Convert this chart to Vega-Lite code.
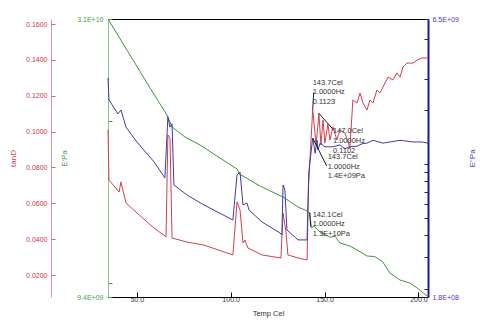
{
  "$schema": "https://vega.github.io/schema/vega-lite/v6.json",
  "autosize": "none",
  "width": 320,
  "height": 278,
  "padding": {"left": 108, "top": 19, "right": 52, "bottom": 25},
  "background": "white",
  "config": {
    "view": {"stroke": "#000000", "strokeWidth": 1},
    "axis": {"labelFont": "Liberation Sans", "labelFontSize": 7, "titleFont": "Liberation Sans", "titleFontSize": 8, "titleFontWeight": "normal", "grid": false}
  },
  "datasets": {
    "tand": [
      {"T": 34.7, "v": 0.1009}, {"T": 35.2, "v": 0.0730}, {"T": 40.6, "v": 0.0663}, {"T": 41.6, "v": 0.0719},
      {"T": 44.3, "v": 0.0602}, {"T": 50.1, "v": 0.0546}, {"T": 59.2, "v": 0.0462}, {"T": 65.0, "v": 0.0418},
      {"T": 65.6, "v": 0.0412}, {"T": 66.6, "v": 0.0981}, {"T": 67.7, "v": 0.0964}, {"T": 68.8, "v": 0.0406},
      {"T": 76.8, "v": 0.0384}, {"T": 85.8, "v": 0.0367}, {"T": 101.2, "v": 0.0312}, {"T": 103.4, "v": 0.0607},
      {"T": 105.0, "v": 0.0563}, {"T": 106.6, "v": 0.0379}, {"T": 107.6, "v": 0.0395}, {"T": 109.2, "v": 0.0351},
      {"T": 116.7, "v": 0.0312}, {"T": 126.8, "v": 0.0295}, {"T": 127.9, "v": 0.0546}, {"T": 129.5, "v": 0.0440},
      {"T": 130.5, "v": 0.0312}, {"T": 135.9, "v": 0.0295}, {"T": 140.7, "v": 0.0284}, {"T": 141.5, "v": 0.0700},
      {"T": 143.7, "v": 0.1123}, {"T": 145.5, "v": 0.0925}, {"T": 147.0, "v": 0.1102}, {"T": 148.1, "v": 0.0925},
      {"T": 149.2, "v": 0.1065}, {"T": 150.2, "v": 0.0936}, {"T": 151.8, "v": 0.1042}, {"T": 152.9, "v": 0.0953},
      {"T": 154.5, "v": 0.1026}, {"T": 156.6, "v": 0.0953}, {"T": 158.2, "v": 0.1009}, {"T": 160.9, "v": 0.0992},
      {"T": 163.5, "v": 0.0908}, {"T": 165.1, "v": 0.1176}, {"T": 167.3, "v": 0.1159}, {"T": 168.9, "v": 0.1215},
      {"T": 170.5, "v": 0.1159}, {"T": 172.6, "v": 0.1120}, {"T": 174.2, "v": 0.1176}, {"T": 175.8, "v": 0.1159},
      {"T": 177.9, "v": 0.1232}, {"T": 179.5, "v": 0.1215}, {"T": 182.2, "v": 0.1271}, {"T": 183.8, "v": 0.1304},
      {"T": 186.4, "v": 0.1288}, {"T": 188.6, "v": 0.1327}, {"T": 190.2, "v": 0.1304}, {"T": 191.8, "v": 0.1360},
      {"T": 193.9, "v": 0.1382}, {"T": 197.1, "v": 0.1382}, {"T": 199.3, "v": 0.1399}, {"T": 201.9, "v": 0.1410},
      {"T": 205.1, "v": 0.1410}
    ],
    "eprime": [
      {"T": 34.7, "v": 3.10e10}, {"T": 46.4, "v": 2.656e10}, {"T": 57.1, "v": 2.305e10}, {"T": 66.1, "v": 2.053e10},
      {"T": 67.7, "v": 1.992e10}, {"T": 68.8, "v": 1.950e10}, {"T": 75.7, "v": 1.868e10}, {"T": 83.7, "v": 1.805e10},
      {"T": 94.3, "v": 1.707e10}, {"T": 103.4, "v": 1.628e10}, {"T": 105.0, "v": 1.587e10}, {"T": 106.6, "v": 1.580e10},
      {"T": 115.6, "v": 1.514e10}, {"T": 127.9, "v": 1.444e10}, {"T": 135.9, "v": 1.383e10}, {"T": 140.7, "v": 1.360e10},
      {"T": 142.1, "v": 1.350e10}, {"T": 143.0, "v": 1.264e10}, {"T": 144.4, "v": 1.275e10}, {"T": 147.6, "v": 1.243e10},
      {"T": 152.9, "v": 1.215e10}, {"T": 155.6, "v": 1.220e10}, {"T": 158.2, "v": 1.185e10}, {"T": 163.5, "v": 1.170e10},
      {"T": 167.3, "v": 1.150e10}, {"T": 172.6, "v": 1.121e10}, {"T": 176.8, "v": 1.118e10}, {"T": 181.1, "v": 1.092e10},
      {"T": 184.8, "v": 1.042e10}, {"T": 190.2, "v": 1.011e10}, {"T": 195.5, "v": 9.98e9}, {"T": 199.3, "v": 9.77e9},
      {"T": 204.6, "v": 9.44e9}
    ],
    "edouble": [
      {"T": 34.7, "v": 3.04e9}, {"T": 35.2, "v": 2.29e9}, {"T": 40.0, "v": 1.91e9}, {"T": 41.6, "v": 2.01e9},
      {"T": 44.3, "v": 1.61e9}, {"T": 50.1, "v": 1.33e9}, {"T": 59.2, "v": 1.03e9}, {"T": 65.0, "v": 8.36e8},
      {"T": 66.6, "v": 1.84e9}, {"T": 67.7, "v": 1.61e9}, {"T": 68.8, "v": 1.68e9}, {"T": 69.8, "v": 7.64e8},
      {"T": 76.8, "v": 6.71e8}, {"T": 85.8, "v": 5.90e8}, {"T": 101.2, "v": 4.86e8}, {"T": 103.4, "v": 8.69e8},
      {"T": 105.0, "v": 9.03e8}, {"T": 106.6, "v": 5.90e8}, {"T": 108.7, "v": 6.05e8}, {"T": 109.8, "v": 5.53e8},
      {"T": 116.7, "v": 4.74e8}, {"T": 126.3, "v": 4.11e8}, {"T": 127.3, "v": 4.01e8}, {"T": 127.9, "v": 7.64e8},
      {"T": 128.9, "v": 7.16e8}, {"T": 130.0, "v": 4.27e8}, {"T": 135.9, "v": 3.76e8}, {"T": 140.7, "v": 3.76e8},
      {"T": 141.6, "v": 9.0e8}, {"T": 143.7, "v": 1.40e9}, {"T": 145.0, "v": 1.15e9}, {"T": 146.0, "v": 1.36e9},
      {"T": 146.5, "v": 1.20e9}, {"T": 147.6, "v": 1.31e9}, {"T": 150.2, "v": 1.25e9}, {"T": 154.5, "v": 1.25e9},
      {"T": 158.2, "v": 1.28e9}, {"T": 160.9, "v": 1.22e9}, {"T": 163.5, "v": 1.25e9}, {"T": 167.3, "v": 1.26e9},
      {"T": 170.0, "v": 1.30e9}, {"T": 172.6, "v": 1.31e9}, {"T": 175.8, "v": 1.36e9}, {"T": 181.1, "v": 1.31e9},
      {"T": 184.8, "v": 1.33e9}, {"T": 190.2, "v": 1.36e9}, {"T": 197.1, "v": 1.33e9}, {"T": 201.9, "v": 1.33e9},
      {"T": 205.1, "v": 1.31e9}
    ],
    "note1": [{"T": 143.7, "v": 0.1123, "label": "143.7Cel\n1.0000Hz\n0.1123"}],
    "note2": [{"T": 147.0, "v": 0.1102, "label": "147.0Cel\n1.0000Hz\n0.1102"}],
    "note3": [{"T": 143.7, "v": 1.4e9, "label": "143.7Cel\n1.0000Hz\n1.4E+09Pa"}],
    "note4": [{"T": 142.1, "v": 1.35e10, "label": "142.1Cel\n1.0000Hz\n1.3E+10Pa"}]
  },
  "encoding": {
    "x": {"field": "T", "type": "quantitative", "scale": {"domain": [34.7, 205.1], "nice": false, "zero": false},
      "axis": {"values": [50, 100, 150, 200], "format": ".1f", "title": "Temp Cel", "tickSize": -5, "labelPadding": 3, "titlePadding": 7,
        "domainColor": "#000000", "tickColor": "#000000", "labelColor": "#333333", "titleColor": "#333333", "titleFontSize": 7.5}}
  },
  "resolve": {"scale": {"y": "independent"}, "axis": {"y": "independent"}},
  "layer": [
    {
      "data": {"name": "tand"},
      "mark": {"type": "line", "color": "#d0404e", "strokeWidth": 1},
      "encoding": {
        "y": {"field": "v", "type": "quantitative", "scale": {"domain": [0.00774, 0.16279], "nice": false, "zero": false},
          "axis": {"orient": "left", "offset": 57, "values": [0.02, 0.04, 0.06, 0.08, 0.1, 0.12, 0.14, 0.16], "format": ".4f",
            "title": "tanD", "tickSize": -4, "labelPadding": 8, "titlePadding": 8,
            "domainColor": "#e0909c", "tickColor": "#d0606e", "labelColor": "#c8384a", "titleColor": "#c8384a"}}
      }
    },
    {
      "data": {"name": "eprime"},
      "mark": {"type": "line", "color": "#3c963c", "strokeWidth": 1},
      "encoding": {
        "y": {"field": "v", "type": "quantitative", "scale": {"type": "log", "domain": [9.4e9, 3.1e10], "nice": false, "zero": false},
          "axis": {"orient": "left", "offset": 0, "values": [9.4e9, 1e10, 2e10, 3.1e10],
            "labelExpr": "datum.value > 3.05e10 ? '3.1E+10' : (datum.value < 9.5e9 ? '9.4E+09' : '')",
            "title": "E'Pa", "tickSize": -4, "labelPadding": 9, "titlePadding": 8,
            "domainColor": "#8cc08c", "tickColor": "#3c963c", "labelColor": "#4a9a4a", "titleColor": "#4a9a4a"}}
      }
    },
    {
      "data": {"name": "edouble"},
      "mark": {"type": "line", "color": "#3c3ca8", "strokeWidth": 1},
      "encoding": {
        "y": {"field": "v", "type": "quantitative", "scale": {"type": "log", "domain": [1.8e8, 6.5e9], "nice": false, "zero": false},
          "axis": {"orient": "right", "offset": 0, "values": [1.8e8, 2e8, 3e8, 4e8, 5e8, 6e8, 7e8, 8e8, 9e8, 1e9, 2e9, 3e9, 5e9, 6.5e9],
            "labelExpr": "datum.value > 6.4e9 ? '6.5E+09' : (datum.value < 1.85e8 ? '1.8E+08' : '')",
            "title": "E''Pa", "titleAngle": 270, "tickSize": -4, "labelPadding": 8, "titlePadding": 18,
            "domainColor": "#1a1aa0", "domainWidth": 2, "tickColor": "#1a1aa0", "labelColor": "#4040b0", "titleColor": "#4040b0"}}
      }
    },
    {
      "data": {"name": "note1"},
      "mark": {"type": "rule", "color": "#222222", "strokeWidth": 1, "x2Offset": 1, "y2Offset": -17},
      "encoding": {
        "x2": {"field": "T"},
        "y": {"field": "v", "type": "quantitative", "scale": {"domain": [0.00774, 0.16279], "nice": false, "zero": false}, "axis": null},
        "y2": {"field": "v"}
      }
    },
    {
      "data": {"name": "note1"},
      "mark": {"type": "text", "align": "left", "baseline": "top", "dx": 0, "dy": -31, "lineBreak": "\n", "lineHeight": 9.7, "font": "Liberation Sans", "fontSize": 7.5, "color": "#333333"},
      "encoding": {
        "y": {"field": "v", "type": "quantitative", "scale": {"domain": [0.00774, 0.16279], "nice": false, "zero": false}, "axis": null},
        "text": {"field": "label"}
      }
    },
    {
      "data": {"name": "note2"},
      "mark": {"type": "rule", "color": "#222222", "strokeWidth": 1, "x2Offset": 15, "y2Offset": 17},
      "encoding": {
        "x2": {"field": "T"},
        "y": {"field": "v", "type": "quantitative", "scale": {"domain": [0.00774, 0.16279], "nice": false, "zero": false}, "axis": null},
        "y2": {"field": "v"}
      }
    },
    {
      "data": {"name": "note2"},
      "mark": {"type": "text", "align": "left", "baseline": "top", "dx": 14, "dy": 14, "lineBreak": "\n", "lineHeight": 9.7, "font": "Liberation Sans", "fontSize": 7.5, "color": "#333333"},
      "encoding": {
        "y": {"field": "v", "type": "quantitative", "scale": {"domain": [0.00774, 0.16279], "nice": false, "zero": false}, "axis": null},
        "text": {"field": "label"}
      }
    },
    {
      "data": {"name": "note3"},
      "mark": {"type": "rule", "color": "#222222", "strokeWidth": 1, "x2Offset": 14, "y2Offset": 28},
      "encoding": {
        "x2": {"field": "T"},
        "y": {"field": "v", "type": "quantitative", "scale": {"type": "log", "domain": [1.8e8, 6.5e9], "nice": false, "zero": false}, "axis": null},
        "y2": {"field": "v"}
      }
    },
    {
      "data": {"name": "note3"},
      "mark": {"type": "text", "align": "left", "baseline": "top", "dx": 15, "dy": 15, "lineBreak": "\n", "lineHeight": 9.7, "font": "Liberation Sans", "fontSize": 7.5, "color": "#333333"},
      "encoding": {
        "y": {"field": "v", "type": "quantitative", "scale": {"type": "log", "domain": [1.8e8, 6.5e9], "nice": false, "zero": false}, "axis": null},
        "text": {"field": "label"}
      }
    },
    {
      "data": {"name": "note4"},
      "mark": {"type": "rule", "color": "#222222", "strokeWidth": 1, "x2Offset": 1, "y2Offset": 14},
      "encoding": {
        "x2": {"field": "T"},
        "y": {"field": "v", "type": "quantitative", "scale": {"type": "log", "domain": [9.4e9, 3.1e10], "nice": false, "zero": false}, "axis": null},
        "y2": {"field": "v"}
      }
    },
    {
      "data": {"name": "note4"},
      "mark": {"type": "text", "align": "left", "baseline": "top", "dx": 3, "dy": -2, "lineBreak": "\n", "lineHeight": 9.7, "font": "Liberation Sans", "fontSize": 7.5, "color": "#333333"},
      "encoding": {
        "y": {"field": "v", "type": "quantitative", "scale": {"type": "log", "domain": [9.4e9, 3.1e10], "nice": false, "zero": false}, "axis": null},
        "text": {"field": "label"}
      }
    }
  ]
}
